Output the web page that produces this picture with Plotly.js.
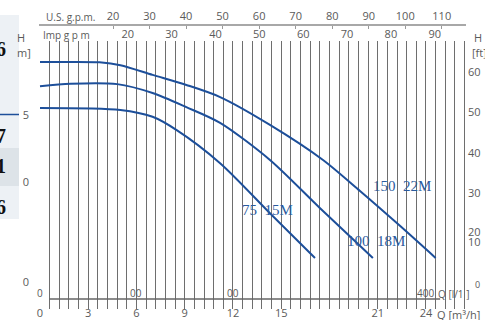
<!DOCTYPE html>
<html><head><meta charset="utf-8">
<script src="https://cdn.plot.ly/plotly-3.0.1.min.js"></script>
<style>html,body{margin:0;padding:0;background:#fff;overflow:hidden}#chart{width:485px;height:320px}</style>
</head><body><div id="chart"></div>
<script>
// Flow Q in m³/h, head H in ft
const q150 = [0, 1.9, 3.7, 5.0, 7.0, 9.1, 11.2, 14.3, 17.6, 19.9, 22.4, 24.6];
const h150 = [62.5, 62.5, 62.4, 61.7, 59.3, 56.8, 53.8, 46.9, 38.2, 30.5, 21.8, 13.9];
const q100 = [0, 1.9, 4.8, 7.0, 9.1, 11.2, 14.3, 17.4, 20.7];
const h100 = [56.5, 57.1, 57.0, 54.8, 51.3, 47.4, 38.2, 26.3, 13.9];
const q75 = [0, 5.0, 7.0, 8.5, 11.2, 14.3, 17.1];
const h75 = [51.1, 50.6, 48.9, 45.6, 37.4, 25.0, 13.9];
const curveNames = ['150  22M', '100  18M', '75  15M'];

const m3hTicks = [0, 3, 6, 9, 12, 15, 21, 24];
const usGpmTicks = [20, 30, 40, 50, 60, 70, 80, 90, 100, 110];
const impGpmTicks = [20, 30, 40, 50, 60, 70, 80, 90];
const lpmTicks = [0, 100, 200, 400];
const lpmText = ['0', '00', '00', '400'];
const ftTickVals = [60, 50, 40, 30, 20.3, 17.9];
const ftTickText = ['60', '50', '40', '30', '20', '10'];
const mTickVals = [5, 0, -7.46];
const mTickText = ['5', '0', '0'];
const panelDigits = ['6', '7', '1', '6'];

const US_GPM = 4.4029, IMP_GPM = 3.6662, LPM = 0.06;
const xr = [-0.062, 26.49];

// pixel -> paper helpers (plot area 39..466 x, 25..309 y)
const PX = x => (x - 39) / 427;
const PY = y => (309 - y) / 284;

const lineColor = '#1d4f9a';
const txtColor = '#2a5a9e';
const grey = '#5a5a5a';
const tickFont = {family: 'Open Sans', size: 11, color: grey};

const traces = [
  {x: q150, y: h150, name: curveNames[0]},
  {x: q100, y: h100, name: curveNames[1]},
  {x: q75, y: h75, name: curveNames[2]}
].map(t => Object.assign(t, {type: 'scatter', mode: 'lines', xaxis: 'x', yaxis: 'y',
  line: {color: lineColor, width: 2, shape: 'spline', smoothing: 0.8}, hoverinfo: 'skip'}));

// empty carriers so the extra scales (US gpm, Imp gpm, metres) are drawn
[['x2', 'y'], ['x3', 'y'], ['x', 'y2']].forEach(a => traces.push({type: 'scatter', mode: 'markers',
  x: [null], y: [null], xaxis: a[0], yaxis: a[1], showlegend: false, hoverinfo: 'skip'}));

const ann = [];
const A = (text, x, y, opts) => ann.push(Object.assign({text, x: PX(x), y: PY(y), xref: 'paper', yref: 'paper',
  xanchor: 'center', yanchor: 'middle', showarrow: false,
  font: {family: 'Open Sans', size: 11, color: grey}}, opts || {}));

A('U.S. g.p.m.', 70, 17, {font: {family: 'Open Sans', size: 10, color: grey}});
A('Imp g p m', 66, 35, {font: {family: 'Open Sans', size: 10, color: grey}});
A('H', 21, 37);
A('m]', 24, 53);
A('H', 478, 37);
A('[ft]', 479, 53);
A('0', 477, 284, {font: {family: 'Open Sans', size: 9, color: grey}});
A('Q [l/1 ]', 436, 294, {xanchor: 'left', font: {family: 'Open Sans', size: 10, color: grey}});
A('Q [m³/h]', 435, 314, {xanchor: 'left'});

// l/min row
lpmTicks.forEach((v, i) => ann.push({text: lpmText[i], x: v * LPM, xref: 'x', y: PY(293), yref: 'paper',
  xanchor: 'center', yanchor: 'middle', showarrow: false,
  font: {family: 'Open Sans', size: 10, color: grey}}));

// curve labels
[[curveNames[0], 22.51, 31.7], [curveNames[1], 20.9, 18.1], [curveNames[2], 14.12, 25.8]].forEach(c =>
  ann.push({text: c[0].replace(/  /g, '&nbsp;&nbsp;'), x: c[1], y: c[2], xref: 'x', yref: 'y',
    xanchor: 'center', yanchor: 'middle', showarrow: false,
    font: {family: 'Liberation Serif', size: 15, color: txtColor}}));

// left panel digits (cut by the left edge, as in the source)
[49, 136, 166, 207].forEach((y, i) => A(panelDigits[i], 8, y, {xanchor: 'right',
  font: {family: 'Liberation Serif', size: 20, color: '#111', weight: 700}}));

const shapes = [
  {type: 'rect', xref: 'paper', yref: 'paper', x0: PX(-2), x1: PX(19), y0: PY(15), y1: PY(219),
    fillcolor: '#edf1f5', line: {width: 0}, layer: 'below'},
  {type: 'rect', xref: 'paper', yref: 'paper', x0: PX(-2), x1: PX(19), y0: PY(148), y1: PY(186),
    fillcolor: '#dde3e8', line: {width: 0}, layer: 'below'},
  {type: 'line', xref: 'paper', yref: 'paper', x0: PX(-2), x1: PX(19), y0: PY(114.5), y1: PY(114.5),
    line: {color: lineColor, width: 1.5}},
  {type: 'line', xref: 'x', yref: 'paper', x0: 0.56, x1: 24.88, y0: PY(299), y1: PY(299),
    line: {color: '#666', width: 1.5}}
];

const layout = {
  width: 485, height: 320,
  margin: {l: 39, r: 19, t: 25, b: 11, pad: 0, autoexpand: false},
  paper_bgcolor: '#fff', plot_bgcolor: 'rgba(0,0,0,0)',
  showlegend: false,
  xaxis: {domain: [0, 1], range: xr, anchor: 'y', tickmode: 'array', tickvals: m3hTicks,
    ticks: '', showline: false, zeroline: false, showgrid: true, gridcolor: '#6e6e6e', gridwidth: 1,
    minor: {tickmode: 'linear', tick0: 0, dtick: 0.6, showgrid: true, gridcolor: '#6e6e6e', gridwidth: 1},
    tickfont: tickFont, ticklabelstandoff: -4, automargin: false},
  xaxis2: {overlaying: 'x', anchor: 'free', position: 1, side: 'top',
    range: [xr[0] * US_GPM, xr[1] * US_GPM], tickmode: 'array', tickvals: usGpmTicks,
    ticks: 'inside', ticklen: 3, tickcolor: '#999', showline: true, linecolor: '#a8a8a8', linewidth: 2,
    showgrid: false, zeroline: false, tickfont: tickFont, automargin: false},
  xaxis3: {overlaying: 'x', anchor: 'free', position: PY(40.5), side: 'top',
    range: [xr[0] * IMP_GPM, xr[1] * IMP_GPM], tickmode: 'array', tickvals: impGpmTicks,
    ticks: '', showline: false, showgrid: false, zeroline: false, tickfont: tickFont,
    ticklabelstandoff: 0, automargin: false},
  yaxis: {domain: [0, PY(40.5)], range: [1.24, 67.82], anchor: 'x', side: 'right',
    tickmode: 'array', tickvals: ftTickVals, ticktext: ftTickText, ticks: '', showgrid: false,
    zeroline: false, showline: false, tickfont: tickFont, ticklabelstandoff: 1, automargin: false},
  yaxis2: {overlaying: 'y', anchor: 'x', side: 'left', range: [-9.478, 10.56],
    tickmode: 'array', tickvals: mTickVals, ticktext: mTickText, ticks: '', showgrid: false,
    zeroline: false, showline: false, tickfont: tickFont, ticklabelstandoff: 9, automargin: false},
  shapes: shapes,
  annotations: ann
};

Plotly.newPlot('chart', traces, layout, {staticPlot: true, displayModeBar: false});
</script></body></html>
